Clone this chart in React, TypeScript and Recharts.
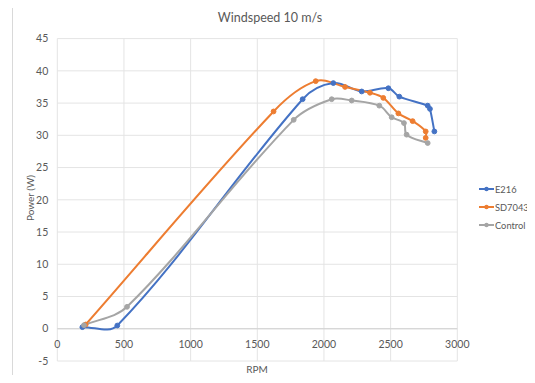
import React from 'react';
import { LineChart, Line, XAxis, YAxis, CartesianGrid, ReferenceLine } from 'recharts';

// values (rpm, power in W)
const e216Rpm = [188, 450, 1840, 2070, 2283, 2483, 2565, 2778, 2795, 2828];
const e216Power = [0.25, 0.5, 35.6, 38.1, 36.8, 37.3, 36.0, 34.6, 34.1, 30.6];

const sd7043Rpm = [213, 1622, 1938, 2158, 2345, 2445, 2558, 2665, 2763, 2763];
const sd7043Power = [0.66, 33.7, 38.4, 37.5, 36.6, 35.8, 33.4, 32.2, 30.6, 29.6];

const controlRpm = [200, 523, 1773, 2058, 2208, 2415, 2508, 2600, 2620, 2778];
const controlPower = [0.55, 3.4, 32.4, 35.6, 35.4, 34.6, 32.8, 31.9, 30.1, 28.8];

const xTicks = [0, 500, 1000, 1500, 2000, 2500, 3000];
const yTicks = [-5, 0, 5, 10, 15, 20, 25, 30, 35, 40, 45];

const toRows = (rpm: number[], p: number[]) => rpm.map((r, i) => ({ rpm: r, p: p[i] }));

const series = [
  { name: 'E216', color: '#4472C4', data: toRows(e216Rpm, e216Power) },
  { name: 'SD7043', color: '#ED7D31', data: toRows(sd7043Rpm, sd7043Power) },
  { name: 'Control', color: '#A5A5A5', data: toRows(controlRpm, controlPower) },
];

const FONT = 'Lato, "Open Sans", sans-serif';
const TEXT = '#595959';
const GRID = '#e4e4e4';

// Excel-like smoothed line: tangent from neighbours, scaled to each segment's length
const smoothCurve = (context: any) => {
  let pts: number[][] = [];
  const tangent = (a: number[], b: number[]) => {
    const dx = b[0] - a[0];
    const dy = b[1] - a[1];
    const len = Math.hypot(dx, dy) || 1;
    return [dx / len, dy / len];
  };
  return {
    areaStart() {},
    areaEnd() {},
    lineStart() { pts = []; },
    point(x: number, y: number) { pts.push([+x, +y]); },
    lineEnd() {
      const n = pts.length;
      if (!n) return;
      context.moveTo(pts[0][0], pts[0][1]);
      for (let i = 0; i < n - 1; i++) {
        const p0 = pts[i > 0 ? i - 1 : i];
        const p1 = pts[i];
        const p2 = pts[i + 1];
        const p3 = pts[i + 2 < n ? i + 2 : i + 1];
        const d = Math.hypot(p2[0] - p1[0], p2[1] - p1[1]);
        const t1 = tangent(p0, p2);
        const t2 = tangent(p1, p3);
        const k = d / 3;
        context.bezierCurveTo(
          p1[0] + t1[0] * k, p1[1] + t1[1] * k,
          p2[0] - t2[0] * k, p2[1] - t2[1] * k,
          p2[0], p2[1]
        );
      }
    },
  };
};

const PLOT_TOP = 38.6;
const PLOT_BOTTOM = 361;
const ZERO_SHIFT = (PLOT_BOTTOM - PLOT_TOP) / 10; // distance from -5 to 0

const XTick = (props: any) => {
  const { x, y, payload } = props;
  return (
    <text x={x} y={y - ZERO_SHIFT + 10} dy="0.71em" textAnchor="middle" fill={TEXT} fontSize={10.5} fontFamily={FONT}>
      {payload.value}
    </text>
  );
};

const LegendBox = () => (
  <div style={{ fontFamily: FONT, fontSize: 9.3, color: TEXT, whiteSpace: 'nowrap', width: 56 }}>
    {series.map(s => (
      <div key={s.name} style={{ display: 'flex', alignItems: 'center', height: 18 }}>
        <svg width={15} height={8} style={{ marginRight: 1, flexShrink: 0 }}>
          <line x1={0} y1={4} x2={15} y2={4} stroke={s.color} strokeWidth={2} />
          <circle cx={7.5} cy={4} r={2.2} fill={s.color} />
        </svg>
        <span style={{ flexShrink: 0 }}>{s.name}</span>
      </div>
    ))}
  </div>
);

export default function App() {
  return (
    <div style={{ position: 'relative', width: 535, height: 383, margin: -8, background: '#fff', overflow: 'hidden' }}>
      <div style={{ position: 'absolute', left: 12, top: 4, width: 540, height: 400, border: '1px solid #d9d9d9', boxSizing: 'border-box' }} />
      <div style={{ position: 'absolute', left: 0, width: 540, top: 10, textAlign: 'center', fontFamily: FONT, fontSize: 12.5, color: TEXT }}>
        Windspeed 10 m/s
      </div>
      <div style={{ position: 'absolute', left: 207, width: 100, top: 363, textAlign: 'center', fontFamily: FONT, fontSize: 10, color: TEXT }}>
        RPM
      </div>
      <div style={{ position: 'absolute', left: -20, width: 100, top: 192, textAlign: 'center', fontFamily: FONT, fontSize: 10, color: TEXT, transform: 'rotate(-90deg)' }}>
        Power (W)
      </div>
      <div style={{ position: 'absolute', left: 0, top: 0 }}>
        <LineChart width={535} height={383} margin={{ top: PLOT_TOP, right: 77.7, bottom: 0, left: 17.3 }}>
          <CartesianGrid stroke={GRID} strokeWidth={1} />
          <XAxis
            dataKey="rpm"
            type="number"
            domain={[0, 3000]}
            ticks={xTicks}
            axisLine={false}
            tickLine={false}
            tickSize={0}
            height={383 - PLOT_BOTTOM}
            tick={<XTick />}
            allowDuplicatedCategory={false}
          />
          <YAxis
            type="number"
            domain={[-5, 45]}
            ticks={yTicks}
            axisLine={false}
            tickLine={false}
            tickSize={0}
            tickMargin={9}
            width={40}
            tick={{ fill: TEXT, fontSize: 10.5, fontFamily: FONT }}
          />
          <ReferenceLine y={0} stroke="#d0d0d0" strokeWidth={1} />
          {series.map(s => (
            <Line
              key={s.name}
              name={s.name}
              data={s.data}
              dataKey="p"
              type={smoothCurve as any}
              stroke={s.color}
              strokeWidth={2}
              dot={{ r: 2.4, fill: s.color, stroke: s.color, strokeWidth: 1 }}
              activeDot={false}
              isAnimationActive={false}
            />
          ))}
        </LineChart>
      </div>
      <div style={{ position: 'absolute', left: 479, top: 180 }}>
        <LegendBox />
      </div>
    </div>
  );
}
